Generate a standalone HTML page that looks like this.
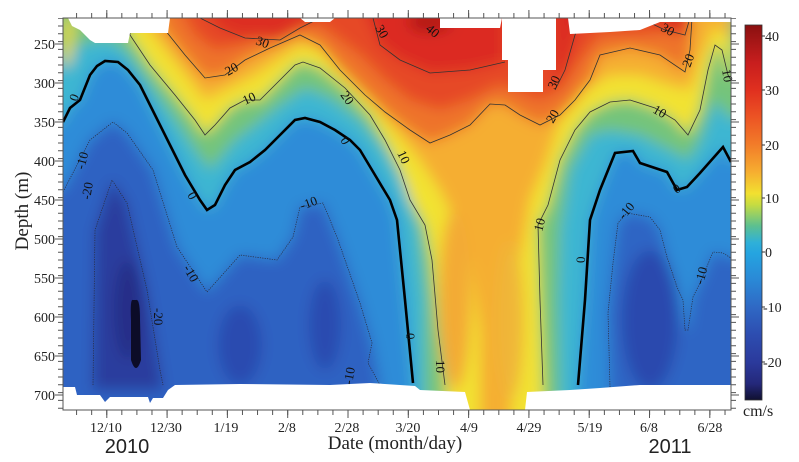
<!DOCTYPE html>
<html><head><meta charset="utf-8"><style>
html,body{margin:0;padding:0;background:#fff;width:799px;height:462px;overflow:hidden}
svg{display:block}
.s{font-family:"Liberation Serif",serif}
</style></head><body>
<svg width="799" height="462" viewBox="0 0 799 462">
<defs>
<clipPath id="pc"><rect x="63" y="18" width="668" height="392"/></clipPath>
<filter id="bl" x="-10%" y="-10%" width="120%" height="120%"><feGaussianBlur stdDeviation="7"/></filter>
<linearGradient id="cb" x1="0" y1="0" x2="0" y2="1">
<stop offset="0" stop-color="#8a1010"/>
<stop offset="0.101" stop-color="#c81e1e"/>
<stop offset="0.174" stop-color="#e0301f"/>
<stop offset="0.246" stop-color="#ec5424"/>
<stop offset="0.319" stop-color="#f27c29"/>
<stop offset="0.391" stop-color="#f6ad30"/>
<stop offset="0.449" stop-color="#f2e030"/>
<stop offset="0.478" stop-color="#c8dc40"/>
<stop offset="0.536" stop-color="#5cc090"/>
<stop offset="0.580" stop-color="#2fb0d8"/>
<stop offset="0.609" stop-color="#25a4e0"/>
<stop offset="0.681" stop-color="#2a88d6"/>
<stop offset="0.754" stop-color="#2f68c4"/>
<stop offset="0.826" stop-color="#2d4db0"/>
<stop offset="0.899" stop-color="#2b3a9c"/>
<stop offset="0.957" stop-color="#24287a"/>
<stop offset="1" stop-color="#101030"/>
</linearGradient>
</defs>

<g clip-path="url(#pc)">
<g filter="url(#bl)">
<rect x="40" y="0" width="720" height="430" fill="#2f8cd8"/>
<path d="M40,192 L63,190 L90,140 L113,122 L127,133 L153,170 L177,247 L207,292 L240,255 L277,260 L293,237 L300,207 L323,203 L337,237 L360,303 L372,343 L380,385 L380,430 L40,430 Z" fill="#2f62c2"/>
<path d="M610,430 L610,387 L608,313 L613,263 L618,223 L627,213 L650,217 L660,230 L667,257 L677,287 L685,330 L688,330 L693,297 L700,283 L713,252 L731,258 L760,260 L760,430 Z" fill="#2f65c4"/>
<ellipse cx="650" cy="320" rx="28" ry="70" fill="#2b48ae"/>
<path d="M93,390 L95,230 L112,180 L127,203 L147,290 L160,370 L163,390 Z" fill="#2a3c9e"/>
<ellipse cx="240" cy="345" rx="22" ry="40" fill="#2c4cb0"/>
<ellipse cx="325" cy="325" rx="16" ry="45" fill="#2c4cb0"/>
<ellipse cx="128" cy="310" rx="14" ry="50" fill="#262f88"/>
<path d="M40,0 L760,0 L760,150 L731,162 L723,147 L700,173 L687,187 L677,190 L667,172 L640,163 L633,151 L615,153 L600,190 L590,220 L585,300 L578,385 L578,430 L413,430 L413,383 L405,300 L397,220 L390,200 L375,175 L360,150 L350,140 L335,130 L320,122 L305,118 L295,120 L280,135 L265,150 L250,162 L235,170 L225,185 L215,205 L207,210 L200,200 L185,175 L170,145 L155,115 L140,85 L128,70 L118,62 L105,61 L97,66 L90,75 L80,100 L70,108 L63,122 L40,130 Z" fill="#3cb6d2"/>
<path d="M40,0 L760,0 L760,110 L731,120 L715,100 L700,140 L688,160 L670,150 L640,135 L610,130 L590,135 L570,170 L560,230 L558,300 L560,430 L425,430 L425,300 L418,230 L405,185 L385,150 L360,120 L330,98 L305,88 L280,105 L255,125 L235,140 L210,170 L195,150 L175,120 L150,85 L125,50 L110,40 L95,40 L80,45 L63,50 L40,60 Z" fill="#74c47a"/>
<path d="M40,0 L731,0 L731,80 L728,75 L722,50 L715,45 L708,70 L700,110 L688,135 L675,120 L655,108 L630,100 L610,102 L590,112 L575,130 L560,160 L548,205 L538,225 L540,300 L543,385 L543,430 L447,430 L445,385 L438,330 L432,260 L425,225 L410,200 L400,170 L385,140 L370,115 L345,88 L320,68 L303,62 L295,65 L280,80 L260,100 L245,100 L230,108 L215,125 L205,135 L195,120 L175,95 L150,65 L130,35 L120,10 Z" fill="#f2e232"/>
<path d="M63,18 L75,18 L72,60 L63,70 Z" fill="#e8d838"/>
<path d="M130,0 L731,0 L731,40 L715,25 L700,60 L690,90 L670,85 L640,75 L610,75 L585,90 L560,120 L545,165 L530,200 L520,260 L515,330 L510,430 L480,430 L480,330 L470,260 L455,220 L440,190 L420,160 L395,130 L370,100 L345,75 L320,50 L300,45 L280,58 L255,75 L235,85 L215,95 L205,100 L190,80 L170,55 L150,30 Z" fill="#f5ae33"/>
<ellipse cx="455" cy="300" rx="16" ry="90" fill="#f3aa35"/>
<ellipse cx="510" cy="320" rx="14" ry="80" fill="#f0b638"/>
<path d="M155,0 L692,0 L690,50 L685,72 L660,55 L630,48 L600,55 L590,80 L575,100 L560,115 L540,125 L520,115 L505,105 L490,104 L470,125 L450,135 L430,143 L410,130 L385,112 L365,95 L340,70 L320,45 L300,35 L270,48 L245,60 L225,75 L205,78 L185,55 L165,30 Z" fill="#ee7329"/>
<path d="M175,0 L680,0 L670,30 L640,35 L600,35 L580,60 L560,90 L540,100 L520,92 L500,85 L470,100 L440,110 L410,100 L385,80 L360,55 L340,40 L320,25 L300,18 L270,30 L240,45 L215,50 L195,35 Z" fill="#e64a25"/>
<path d="M200,0 L320,0 L320,18 L300,28 L280,40 L245,38 L220,28 Z" fill="#dd2d20"/>
<path d="M360,0 L505,0 L505,62 L470,70 L430,73 L400,60 L380,45 Z" fill="#dc2a20"/>
<path d="M552,0 L590,0 L575,35 L565,70 L555,90 Z" fill="#dc2a20"/>
<path d="M630,0 L695,0 L690,18 L685,35 L665,30 Z" fill="#dc2e20"/>
<ellipse cx="430" cy="22" rx="22" ry="10" fill="#b01818"/>
</g>
<path d="M133,300 Q130,298 131,320 L131,360 Q136,376 141,360 L140,320 Q140,298 136,300 Z" fill="#0c0c28"/>

<g fill="none" stroke="#2a2a3a" stroke-width="0.7" stroke-dasharray="1.2 1.2">
<path d="M63,192 L90,140 L113,122 L127,133 L153,170 L177,247 L207,292 L240,255 L277,260 L293,237 L300,207 L323,203 L337,237 L360,303 L372,343 L368,363 L380,385"/>
<path d="M610,387 L608,313 L613,263 L618,223 L627,213 L650,217 L660,230 L667,257 L677,287 L683,300 L685,330 L688,330 L693,297 L700,283 L713,252 L723,253 L731,258"/>
<path d="M93,385 L95,230 L112,180 L127,203 L147,290 L160,370 L163,385"/>
</g>
<g fill="none" stroke="#333" stroke-width="0.8">
<path d="M130,18 L130,35 L150,65 L175,95 L195,120 L205,135 L215,125 L230,108 L245,100 L260,100 L280,80 L295,65 L303,62 L320,68 L345,88 L370,115 L385,140 L400,170 L410,200 L425,225 L432,260 L438,330 L445,385"/>
<path d="M543,385 L540,300 L538,225 L548,205 L560,160 L575,130 L590,112 L610,102 L630,100 L655,108 L675,120 L688,135 L700,110 L708,70 L715,45 L722,50 L728,75 L731,80"/>
<path d="M155,18 L165,30 L185,55 L205,78 L225,75 L245,60 L270,48 L300,35 L320,45 L340,70 L365,95 L385,112 L410,130 L430,143 L450,135 L470,125 L490,104 L505,105 L520,115 L540,125 L560,115 L575,100 L590,80 L600,55 L630,48 L660,55 L685,72 L690,50 L692,18"/>
<path d="M200,18 L220,28 L245,38 L280,40 L300,28 L320,18"/>
<path d="M373,18 L380,45 L400,60 L430,73 L470,70 L505,62"/>
<path d="M555,90 L565,70 L575,35 L582,18"/>
<path d="M640,18 L665,30 L685,35 L690,18"/>
</g>
<path d="M63,122 L70,108 L80,100 L90,75 L97,66 L105,61 L118,62 L128,70 L140,85 L155,115 L170,145 L185,175 L200,200 L207,210 L215,205 L225,185 L235,170 L250,162 L265,150 L280,135 L295,120 L305,118 L320,122 L335,130 L350,140 L360,150 L375,175 L390,200 L397,220 L405,300 L413,383" fill="none" stroke="#000" stroke-width="2.6"/>
<path d="M578,385 L585,300 L590,220 L600,190 L615,153 L633,151 L640,163 L667,172 L677,190 L687,187 L700,173 L723,147 L731,162" fill="none" stroke="#000" stroke-width="2.6"/>

<g fill="#fff">
<path d="M68,18 L72,26 L80,30 L90,40 L95,43 L128,43 L130,33 L168,33 L170,18 Z"/>
<path d="M300,18 L335,18 L330,22 L305,22 Z"/>
<path d="M440,18 L502,18 L500,28 L440,28 Z"/>
<path d="M502,18 L556,18 L556,70 L543,70 L543,92 L508,92 L508,60 L502,60 Z"/>
<path d="M568,18 L731,18 L731,22 L660,22 L640,30 L610,32 L570,34 Z"/>
<path d="M63,410 L63,387 L75,387 L77,395 L100,395 L105,402 L110,397 L148,397 L150,403 L153,398 L163,398 L168,390 L175,385 L240,384 L330,385 L370,383 L415,386 L420,390 L465,392 L470,410 L525,410 L527,392 L570,390 L600,388 L640,385 L731,385 L731,410 Z"/>
</g>
</g>

<g class="s" font-size="13" fill="#111">
<text x="255" y="44" transform="rotate(20 255 44)">30</text>
<text x="425" y="30" transform="rotate(40 425 30)">40</text>
<text x="375" y="28" transform="rotate(60 375 28)">30</text>
<text x="555" y="90" transform="rotate(-65 555 90)">30</text>
<text x="660" y="30" transform="rotate(30 660 30)">30</text>
<text x="228" y="76" transform="rotate(-30 228 76)">20</text>
<text x="340" y="95" transform="rotate(55 340 95)">20</text>
<text x="553" y="124" transform="rotate(-60 553 124)">20</text>
<text x="690" y="68" transform="rotate(-70 690 68)">20</text>
<text x="245" y="105" transform="rotate(-25 245 105)">10</text>
<text x="397" y="153" transform="rotate(65 397 153)">10</text>
<text x="652" y="112" transform="rotate(30 652 112)">10</text>
<text x="722" y="70" transform="rotate(80 722 70)">10</text>
<text x="542" y="232" transform="rotate(-75 542 232)">10</text>
<text x="436" y="360" transform="rotate(90 436 360)">10</text>
<text x="77" y="102" transform="rotate(-70 77 102)">0</text>
<text x="187" y="195" transform="rotate(60 187 195)">0</text>
<text x="340" y="140" transform="rotate(60 340 140)">0</text>
<text x="406" y="333" transform="rotate(90 406 333)">0</text>
<text x="585" y="263" transform="rotate(-90 585 263)">0</text>
<text x="676" y="194" transform="rotate(-30 676 194)">0</text>
<text x="84" y="170" transform="rotate(-75 84 170)">-10</text>
<text x="183" y="268" transform="rotate(60 183 268)">-10</text>
<text x="302" y="210" transform="rotate(-20 302 210)">-10</text>
<text x="352" y="385" transform="rotate(-80 352 385)">-10</text>
<text x="624" y="220" transform="rotate(-50 624 220)">-10</text>
<text x="703" y="285" transform="rotate(-75 703 285)">-10</text>
<text x="90" y="200" transform="rotate(-80 90 200)">-20</text>
<text x="154" y="308" transform="rotate(90 154 308)">-20</text>
</g>

<rect x="63" y="18" width="668" height="392" fill="none" stroke="#555" stroke-width="1"/>
<g stroke="#555" fill="none">
<line x1="60.5" y1="18" x2="60.5" y2="410" stroke-width="5" stroke-dasharray="1 6.8" stroke-dashoffset="0.3"/>
<line x1="59" y1="18" x2="59" y2="410" stroke-width="8" stroke-dasharray="1 38" stroke-dashoffset="13.5"/>
<line x1="733.5" y1="18" x2="733.5" y2="410" stroke-width="5" stroke-dasharray="1 6.8" stroke-dashoffset="0.3"/>
<line x1="735" y1="18" x2="735" y2="410" stroke-width="8" stroke-dasharray="1 38" stroke-dashoffset="13.5"/>
<line x1="63" y1="412.5" x2="731" y2="412.5" stroke-width="5" stroke-dasharray="1 14.08" stroke-dashoffset="2"/>
<line x1="63" y1="414" x2="731" y2="414" stroke-width="8" stroke-dasharray="1 59.3" stroke-dashoffset="17"/>
<line x1="63" y1="15.5" x2="731" y2="15.5" stroke-width="5" stroke-dasharray="1 14.08" stroke-dashoffset="2"/>
<line x1="63" y1="14" x2="731" y2="14" stroke-width="8" stroke-dasharray="1 59.3" stroke-dashoffset="17"/>
</g>

<g class="s" font-size="14" fill="#222" text-anchor="end">
<text x="55" y="49">250</text><text x="55" y="88">300</text><text x="55" y="127">350</text>
<text x="55" y="166">400</text><text x="55" y="205">450</text><text x="55" y="244">500</text>
<text x="55" y="283">550</text><text x="55" y="322">600</text><text x="55" y="361">650</text>
<text x="55" y="400">700</text>
</g>
<g class="s" font-size="14" fill="#222" text-anchor="middle">
<text x="106" y="432">12/10</text><text x="166" y="432">12/30</text><text x="226" y="432">1/19</text>
<text x="287" y="432">2/8</text><text x="347" y="432">2/28</text><text x="408" y="432">3/20</text>
<text x="469" y="432">4/9</text><text x="529" y="432">4/29</text><text x="590" y="432">5/19</text>
<text x="649" y="432">6/8</text><text x="710" y="432">6/28</text>
</g>
<text class="s" x="395" y="449" font-size="19" fill="#222" text-anchor="middle">Date (month/day)</text>
<text class="s" x="0" y="0" font-size="19" fill="#222" text-anchor="middle" transform="translate(28 211) rotate(-90)">Depth (m)</text>
<text x="127" y="453" font-family="Liberation Sans, sans-serif" font-size="20" fill="#222" text-anchor="middle">2010</text>
<text x="670" y="453" font-family="Liberation Sans, sans-serif" font-size="20" fill="#222" text-anchor="middle">2011</text>

<rect x="745" y="25" width="17" height="375" fill="url(#cb)" stroke="#333" stroke-width="0.8"/>
<g stroke="#333" stroke-width="1">
<line x1="762" y1="36" x2="765" y2="36"/><line x1="762" y1="90" x2="765" y2="90"/>
<line x1="762" y1="145" x2="765" y2="145"/><line x1="762" y1="198" x2="765" y2="198"/>
<line x1="762" y1="252" x2="765" y2="252"/><line x1="762" y1="307" x2="765" y2="307"/>
<line x1="762" y1="362" x2="765" y2="362"/>
</g>
<g class="s" font-size="14" fill="#222">
<text x="765" y="41">40</text><text x="765" y="95">30</text><text x="765" y="150">20</text>
<text x="765" y="203">10</text><text x="765" y="257">0</text><text x="763" y="312">-10</text>
<text x="763" y="367">-20</text>
</g>
<text class="s" x="743" y="416" font-size="16" fill="#222">cm/s</text>
</svg>
</body></html>
